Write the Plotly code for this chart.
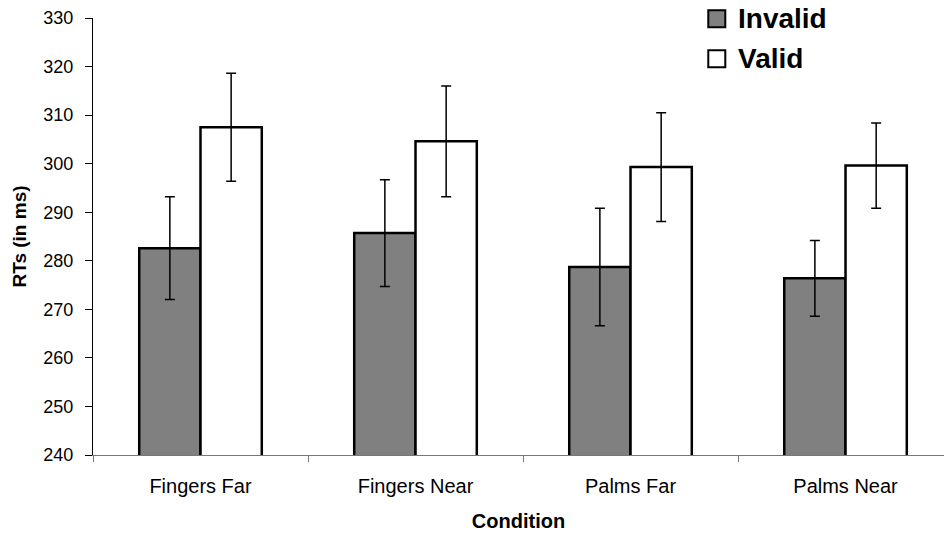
import plotly.graph_objects as go

conditions = ["Fingers Far", "Fingers Near", "Palms Far", "Palms Near"]
invalid_rt = [282.6, 285.7, 278.7, 276.4]
invalid_err = [10.6, 11.0, 12.1, 7.8]
valid_rt = [307.5, 304.6, 299.3, 299.6]
valid_err = [11.1, 11.4, 11.2, 8.8]
y_ticks = list(range(240, 331, 10))

series_names = ["Invalid", "Valid"]
series_fill = ["#808080", "white"]

FONT = "Liberation Sans, Arial, sans-serif"

fig = go.Figure()
for name, vals, errs, fill in zip(series_names, [invalid_rt, valid_rt],
                                  [invalid_err, valid_err], series_fill):
    fig.add_trace(go.Bar(
        name=name, x=conditions, y=vals,
        marker=dict(color=fill, line=dict(color="black", width=2.5)),
        error_y=dict(type="data", array=errs, color="black", thickness=1.5, width=5),
        showlegend=False,
    ))

# Legend drawn as squares with bold labels, top right
legend_x = 0.733
legend_text_x = 0.756
legend_rows_y = [0.998, 0.907]
for name, fill, ly in zip(series_names, series_fill, legend_rows_y):
    fig.add_shape(
        type="rect", xref="paper", yref="paper",
        xsizemode="pixel", ysizemode="pixel",
        xanchor=legend_x, yanchor=ly,
        x0=-8.5, x1=8.5, y0=-8.5, y1=8.5,
        fillcolor=fill, line=dict(color="black", width=2),
    )
    fig.add_annotation(
        xref="paper", yref="paper", x=legend_text_x, y=ly,
        xanchor="left", yanchor="middle", showarrow=False,
        text=f"<b>{name}</b>",
        font=dict(family=FONT, size=28, color="black"),
    )

fig.update_layout(
    width=944, height=533,
    margin=dict(l=93, r=0, t=18, b=78),
    paper_bgcolor="white", plot_bgcolor="white",
    barmode="group", bargap=0.43, bargroupgap=0,
    font=dict(family=FONT, size=18, color="black"),
    showlegend=False,
)
fig.update_xaxes(
    range=[-0.5, 3.458],
    showline=True, linecolor="#777777", linewidth=1,
    ticks="outside", tickson="boundaries", ticklen=6, tickcolor="#777777",
    tickfont=dict(family=FONT, size=20),
    ticklabelstandoff=13,
    title=dict(text="<b>Condition</b>", font=dict(family=FONT, size=20), standoff=17),
    showgrid=False, zeroline=False,
)
fig.update_yaxes(
    range=[240, 330], tickvals=y_ticks,
    showline=True, linecolor="black", linewidth=1,
    ticks="outside", ticklen=7, tickcolor="black",
    tickfont=dict(family=FONT, size=18),
    ticklabelstandoff=8,
    title=dict(text="<b>RTs (in ms)</b>", font=dict(family=FONT, size=19), standoff=11),
    showgrid=False, zeroline=False,
)

fig.write_html("out.html")
